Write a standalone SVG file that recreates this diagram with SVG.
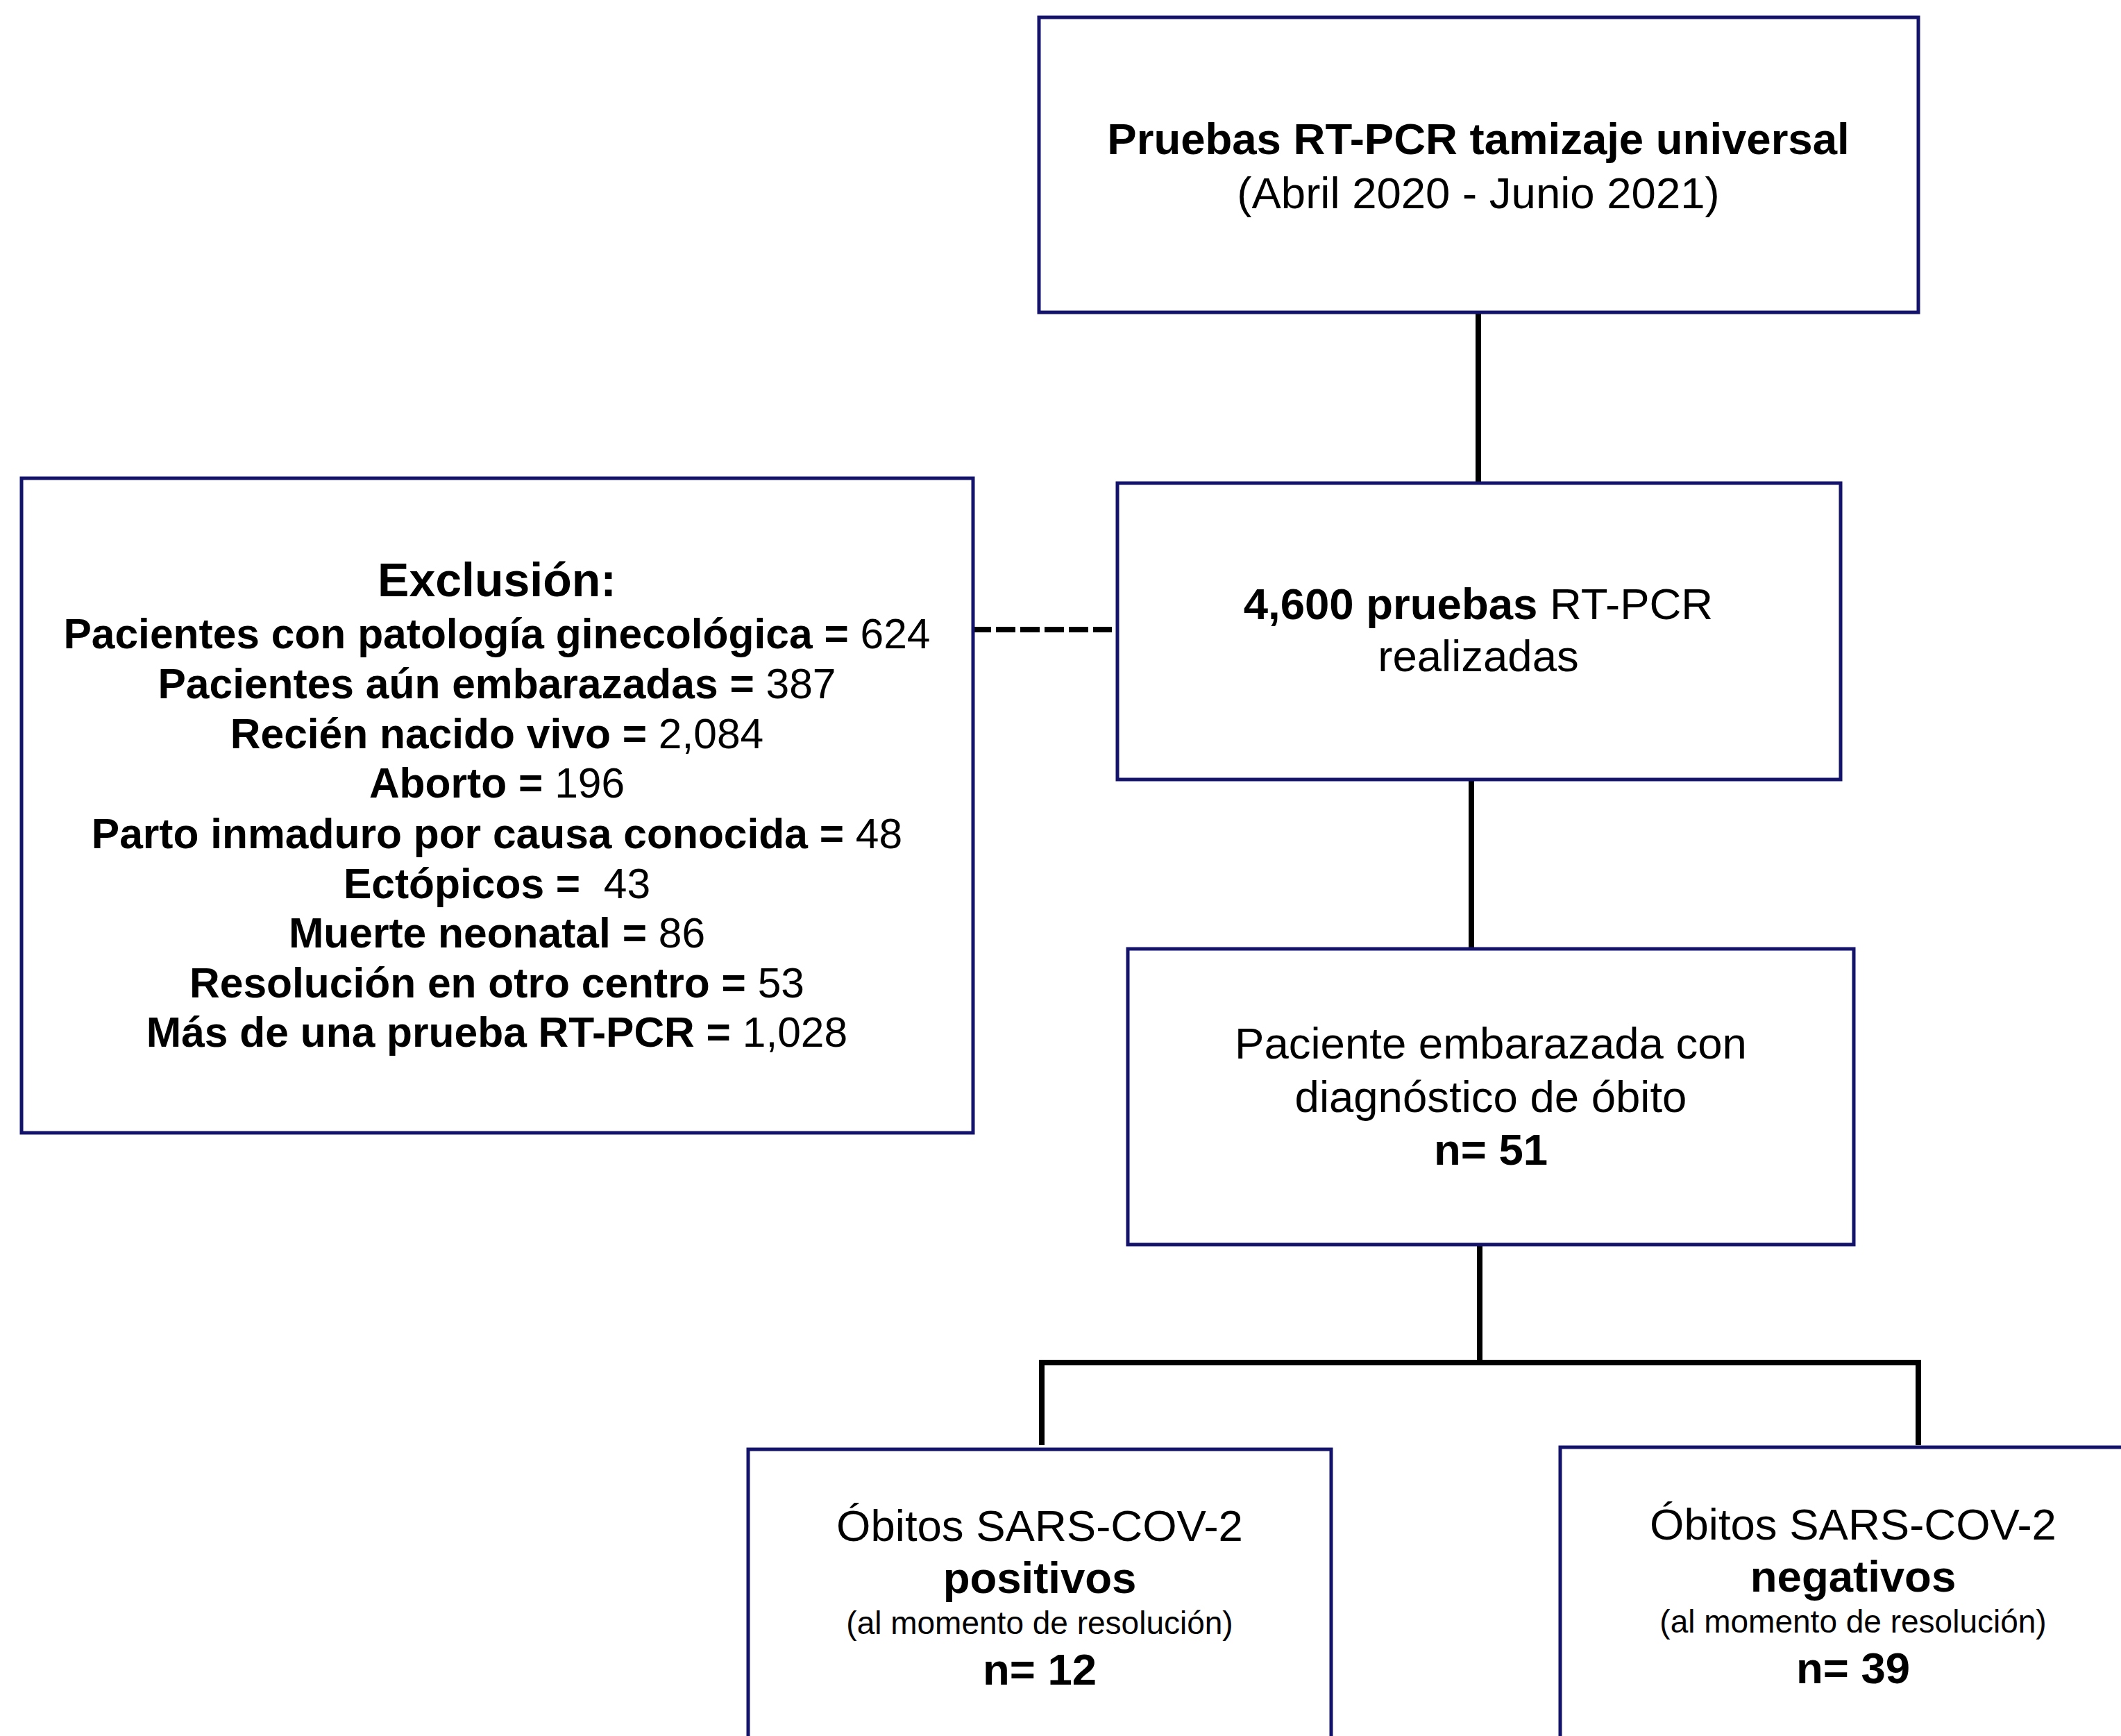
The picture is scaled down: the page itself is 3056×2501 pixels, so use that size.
<svg xmlns="http://www.w3.org/2000/svg" width="3056" height="2501" viewBox="0 0 3056 2501">
<style>
.box{fill:#ffffff;stroke:#13136b;stroke-width:5}
.t{font-family:"Liberation Sans",Arial,sans-serif;fill:#000;text-anchor:middle}
.m{font-size:63.5px}
.x{font-size:60.5px}
.s{font-size:46px}
.b{font-weight:bold}
.n{font-weight:normal}
.c{fill:none;stroke:#000;stroke-width:8}
</style>
<rect width="3056" height="2501" fill="#ffffff"/>
<g id="connectors">
<line class="c" x1="2130" y1="450" x2="2130" y2="696"/>
<line class="c" x1="2120" y1="1123" x2="2120" y2="1367"/>
<line class="c" x1="2132" y1="1793" x2="2132" y2="1963"/>
<polyline class="c" points="1501,2082 1501,1963 2764,1963 2764,2082"/>
<line class="c" x1="1400" y1="907" x2="1602" y2="907" stroke-dasharray="28 7"/>
</g>
<g id="node-top">
<rect class="box" x="1497" y="25" width="1267" height="425"/>
<text class="t m b" x="2130" y="222">Pruebas RT-PCR tamizaje universal</text>
<text class="t m" x="2130" y="300">(Abril 2020 - Junio 2021)</text>
</g>
<g id="node-pruebas">
<rect class="box" x="1610" y="696" width="1042" height="427"/>
<text class="t m" x="2130" y="892"><tspan class="b">4,600 pruebas</tspan> RT-PCR</text>
<text class="t m" x="2130" y="967">realizadas</text>
</g>
<g id="node-exclusion">
<rect class="box" x="31" y="689" width="1371" height="943"/>
<text class="t b" x="716" y="859" font-size="68">Exclusión:</text>
<text class="t x b" x="716" y="934">Pacientes con patología ginecológica = <tspan class="n">624</tspan></text>
<text class="t x b" x="716" y="1006">Pacientes aún embarazadas = <tspan class="n">387</tspan></text>
<text class="t x b" x="716" y="1078">Recién nacido vivo = <tspan class="n">2,084</tspan></text>
<text class="t x b" x="716" y="1149">Aborto = <tspan class="n">196</tspan></text>
<text class="t x b" x="716" y="1222">Parto inmaduro por causa conocida = <tspan class="n">48</tspan></text>
<text class="t x b" x="716" y="1294" xml:space="preserve">Ectópicos =  <tspan class="n">43</tspan></text>
<text class="t x b" x="716" y="1365">Muerte neonatal = <tspan class="n">86</tspan></text>
<text class="t x b" x="716" y="1437">Resolución en otro centro = <tspan class="n">53</tspan></text>
<text class="t x b" x="716" y="1508">Más de una prueba RT-PCR = <tspan class="n">1,028</tspan></text>
</g>
<g id="node-obito">
<rect class="box" x="1625" y="1367" width="1046" height="426"/>
<text class="t m" x="2148" y="1525">Paciente embarazada con</text>
<text class="t m" x="2148" y="1602">diagnóstico de óbito</text>
<text class="t m b" x="2148" y="1678">n= 51</text>
</g>
<g id="node-positivos">
<rect class="box" x="1078" y="2088" width="840" height="500"/>
<text class="t m" x="1498" y="2220">Óbitos SARS-COV-2</text>
<text class="t m b" x="1498" y="2295">positivos</text>
<text class="t s" x="1498" y="2354">(al momento de resolución)</text>
<text class="t m b" x="1498" y="2427">n= 12</text>
</g>
<g id="node-negativos">
<rect class="box" x="2248" y="2085" width="900" height="500"/>
<text class="t m" x="2670" y="2218">Óbitos SARS-COV-2</text>
<text class="t m b" x="2670" y="2293">negativos</text>
<text class="t s" x="2670" y="2352">(al momento de resolución)</text>
<text class="t m b" x="2670" y="2425">n= 39</text>
</g>
</svg>
